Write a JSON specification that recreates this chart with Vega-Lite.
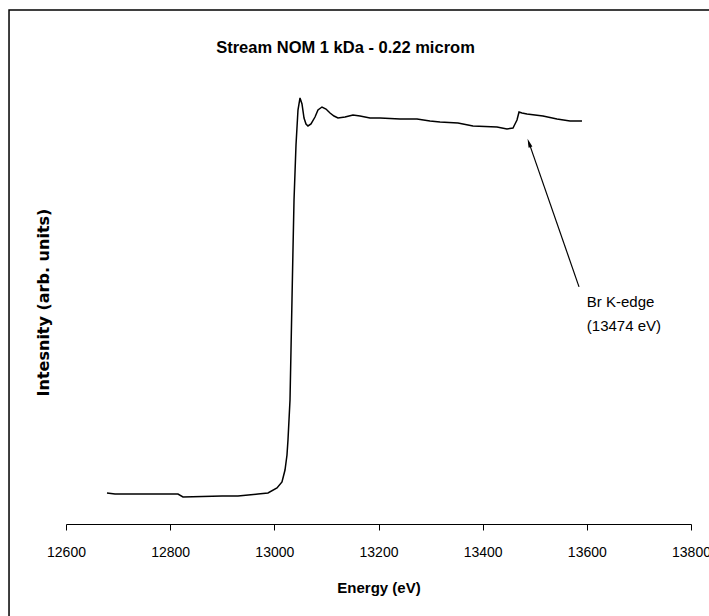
{
  "$schema": "https://vega.github.io/schema/vega-lite/v6.json",
  "width": 625,
  "height": 444,
  "autosize": "none",
  "padding": {"left": 66, "top": 80, "right": 18, "bottom": 92},
  "background": "white",
  "title": {
    "text": "Stream NOM 1 kDa - 0.22 microm",
    "font": "Liberation Sans",
    "fontSize": 16.5,
    "fontWeight": "bold",
    "color": "black",
    "anchor": "middle",
    "frame": "group",
    "dx": -33,
    "offset": -47
  },
  "config": {
    "view": {"stroke": null},
    "font": "Liberation Sans"
  },
  "datasets": {
    "spectrum": [
      {"energy": 12678.7, "intensity": 0.0838},
      {"energy": 12694.1, "intensity": 0.0811},
      {"energy": 12815.0, "intensity": 0.0811},
      {"energy": 12824.6, "intensity": 0.0730},
      {"energy": 12899.5, "intensity": 0.0757},
      {"energy": 12930.2, "intensity": 0.0757},
      {"energy": 12968.6, "intensity": 0.0811},
      {"energy": 12987.8, "intensity": 0.0838},
      {"energy": 13005.1, "intensity": 0.0973},
      {"energy": 13014.7, "intensity": 0.1135},
      {"energy": 13020.5, "intensity": 0.1459},
      {"energy": 13024.3, "intensity": 0.1865},
      {"energy": 13026.2, "intensity": 0.2270},
      {"energy": 13030.1, "intensity": 0.3351},
      {"energy": 13032.0, "intensity": 0.4703},
      {"energy": 13033.9, "intensity": 0.6054},
      {"energy": 13035.8, "intensity": 0.7405},
      {"energy": 13037.8, "intensity": 0.8757},
      {"energy": 13041.6, "intensity": 1.0243},
      {"energy": 13045.4, "intensity": 1.1189},
      {"energy": 13049.3, "intensity": 1.1514},
      {"energy": 13053.1, "intensity": 1.1351},
      {"energy": 13057.0, "intensity": 1.0973},
      {"energy": 13060.8, "intensity": 1.0811},
      {"energy": 13064.6, "intensity": 1.0757},
      {"energy": 13070.4, "intensity": 1.0811},
      {"energy": 13078.1, "intensity": 1.1000},
      {"energy": 13083.8, "intensity": 1.1189},
      {"energy": 13091.5, "intensity": 1.1270},
      {"energy": 13099.2, "intensity": 1.1216},
      {"energy": 13106.9, "intensity": 1.1108},
      {"energy": 13114.6, "intensity": 1.1027},
      {"energy": 13122.2, "intensity": 1.0973},
      {"energy": 13135.7, "intensity": 1.1000},
      {"energy": 13151.0, "intensity": 1.1054},
      {"energy": 13164.5, "intensity": 1.1027},
      {"energy": 13183.7, "intensity": 1.0973},
      {"energy": 13202.9, "intensity": 1.0973},
      {"energy": 13241.3, "intensity": 1.0946},
      {"energy": 13273.9, "intensity": 1.0946},
      {"energy": 13298.9, "intensity": 1.0892},
      {"energy": 13318.1, "intensity": 1.0865},
      {"energy": 13352.6, "intensity": 1.0838},
      {"energy": 13381.4, "intensity": 1.0757},
      {"energy": 13427.5, "intensity": 1.0730},
      {"energy": 13446.7, "intensity": 1.0676},
      {"energy": 13458.2, "intensity": 1.0703},
      {"energy": 13462.1, "intensity": 1.0811},
      {"energy": 13465.9, "intensity": 1.0919},
      {"energy": 13469.8, "intensity": 1.1135},
      {"energy": 13475.5, "intensity": 1.1108},
      {"energy": 13485.1, "intensity": 1.1081},
      {"energy": 13515.8, "intensity": 1.1027},
      {"energy": 13542.7, "intensity": 1.0946},
      {"energy": 13567.7, "intensity": 1.0892},
      {"energy": 13590.7, "intensity": 1.0892}
    ],
    "arrow": [
      {"e0": 13585, "i0": 0.641, "e1": 13489, "i1": 1.03}
    ],
    "note": [
      {"energy": 13600, "intensity": 0.5865, "label": ["Br K-edge", "(13474 eV)"]}
    ]
  },
  "layer": [
    {
      "data": {"values": [{}]},
      "mark": {"type": "rect", "fill": null, "stroke": "black", "strokeWidth": 1.5},
      "encoding": {
        "x": {"datum": 12490.6, "type": "quantitative"},
        "x2": {"datum": 14000},
        "y": {"datum": 1.389, "type": "quantitative"},
        "y2": {"datum": -0.3}
      }
    },
    {
      "data": {"name": "spectrum"},
      "mark": {"type": "line", "color": "black", "strokeWidth": 1.5},
      "encoding": {
        "x": {
          "field": "energy",
          "type": "quantitative",
          "scale": {"domain": [12600, 13800], "nice": false, "zero": false},
          "axis": {
            "title": "Energy (eV)",
            "values": [12600, 12800, 13000, 13200, 13400, 13600, 13800],
            "format": "d",
            "grid": false,
            "domainColor": "black",
            "tickColor": "black",
            "tickSize": 6,
            "labelFont": "Liberation Sans",
            "labelFontSize": 14,
            "labelColor": "black",
            "labelPadding": 15,
            "labelFlush": false,
            "labelOverlap": false,
            "titleFont": "Liberation Sans",
            "titleFontSize": 15,
            "titleFontWeight": "bold",
            "titleColor": "black",
            "titlePadding": 21
          }
        },
        "y": {
          "field": "intensity",
          "type": "quantitative",
          "scale": {"domain": [0, 1.2], "nice": false},
          "axis": {
            "title": "Intesnity (arb. units)",
            "domain": false,
            "ticks": false,
            "labels": false,
            "grid": false,
            "titleFont": "DejaVu Sans",
            "titleFontSize": 16,
            "titleFontWeight": "bold",
            "titleColor": "black",
            "titlePadding": 15
          }
        }
      }
    },
    {
      "data": {"name": "arrow"},
      "mark": {"type": "rule", "color": "black", "strokeWidth": 1.2},
      "encoding": {
        "x": {"field": "e0", "type": "quantitative"},
        "y": {"field": "i0", "type": "quantitative"},
        "x2": {"field": "e1"},
        "y2": {"field": "i1"}
      }
    },
    {
      "data": {"name": "arrow"},
      "mark": {"type": "point", "shape": "M0,-1L-0.45,1L0.45,1Z", "filled": true, "color": "black", "size": 80, "angle": -19, "opacity": 1},
      "encoding": {
        "x": {"field": "e1", "type": "quantitative"},
        "y": {"field": "i1", "type": "quantitative"}
      }
    },
    {
      "data": {"name": "note"},
      "mark": {"type": "text", "align": "left", "baseline": "alphabetic", "font": "Liberation Sans", "fontSize": 15, "lineHeight": 24, "color": "black"},
      "encoding": {
        "x": {"field": "energy", "type": "quantitative"},
        "y": {"field": "intensity", "type": "quantitative"},
        "text": {"field": "label"}
      }
    }
  ]
}
